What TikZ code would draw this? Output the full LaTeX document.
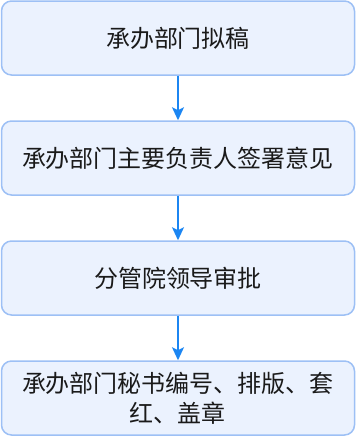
\documentclass[tikz,border=0pt]{standalone}
\usepackage{fontspec}
\setmainfont{Noto Sans CJK SC}
\usetikzlibrary{arrows.meta}
\definecolor{boxfill}{HTML}{EBF2FE}
\definecolor{boxline}{HTML}{9DC0F5}
\definecolor{arrowc}{HTML}{1C86F2}
\definecolor{txt}{HTML}{1A1A1A}
\tikzset{
  stepbox/.style={draw=boxline, fill=boxfill, line width=1.5pt, rounded corners=10pt,
    minimum width=353pt, minimum height=74pt, inner sep=0pt, align=center,
    text=txt, font=\fontsize{24pt}{30pt}\selectfont},
  flowarrow/.style={draw=arrowc, line width=1.5pt, -{Stealth[width=12pt,length=13pt,inset=3pt]}}
}
\begin{document}
\begin{tikzpicture}[x=1pt,y=-1pt]
\useasboundingbox (0,0) rectangle (356,437);
\node[stepbox] (a) at (178,38) {承办部门拟稿};
\node[stepbox] (b) at (178,158) {承办部门主要负责人签署意见};
\node[stepbox] (c) at (178,278) {分管院领导审批};
\node[stepbox] (d) at (178,398) {承办部门秘书编号、排版、套\\红、盖章};
\draw[flowarrow] (a) -- (b);
\draw[flowarrow] (b) -- (c);
\draw[flowarrow] (c) -- (d);
\end{tikzpicture}
\end{document}
